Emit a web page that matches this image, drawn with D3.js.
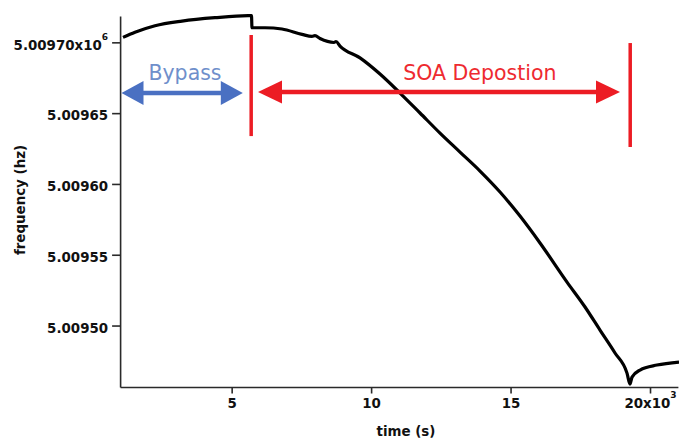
<!DOCTYPE html>
<html>
<head>
<meta charset="utf-8">
<script src="https://cdn.jsdelivr.net/npm/d3@7"></script>
<style>
    body { margin: 0; background: #fff; }
    svg { display: block; }
    .axis text { font-family: "DejaVu Sans", sans-serif; font-weight: bold; font-size: 13.4px; fill: #111; }
    .axis path, .axis line { stroke: #2a2a2a; stroke-width: 1.6; }
    .axis-title { font-family: "DejaVu Sans", sans-serif; font-weight: bold; font-size: 13.4px; fill: #111; }
    .note { font-family: "DejaVu Sans", sans-serif; font-size: 20.5px; }
</style>
</head>
<body>
<svg id="chart" width="679" height="441"></svg>
<script>

// time (s) and resonant frequency (Hz)
var timeS = [1104, 1534, 2251, 3219, 4403, 5586, 5711, 5729, 6195, 6805, 7522, 7880, 7988, 8167,
    8669, 8741, 8884, 9602, 10319, 11036, 11753, 12470, 13187, 13905, 14622, 15339, 16056,
    17024, 17670, 18207, 18745, 19175, 19283, 19355, 19642, 20251, 21040];
var freqHz = [5009703.5, 5009707.1, 5009711.7, 5009715.0, 5009717.4, 5009718.8, 5009718.8, 5009710.3,
    5009710.3, 5009709.4, 5009705.6, 5009704.2, 5009704.7, 5009702.7, 5009699.9, 5009700.6, 5009697.4,
    5009689.0, 5009677.6, 5009664.2, 5009650.1, 5009635.9, 5009622.5, 5009609.1, 5009594.3, 5009577.3,
    5009558.3, 5009530.7, 5009513.1, 5009496.8, 5009480.6, 5009466.4, 5009458.7, 5009463.6,
    5009468.6, 5009472.1, 5009474.2];

var xTicks = [5000, 10000, 15000, 20000];
var xTickLabels = ['5', '10', '15', '20x10'];
var yTicks = [5009500, 5009550, 5009600, 5009650, 5009700];
var yTickLabels = ['5.00950', '5.00955', '5.00960', '5.00965', '5.00970x10'];

// annotation positions, in data units
var bypassSpan = [1050, 5400];
var depositionSpan = [5944, 18924];
var phaseMarkers = [5700, 19290];
var markerTop = [5009705.2, 5009699.5];
var markerBottom = [5009633.8, 5009626.1];
var arrowFreq = [5009664.2, 5009664.9];
var noteFreq = 5009673.4;
var noteTime = [3327, 13900];
var noteText = ['Bypass', 'SOA Depostion'];

var svg = d3.select('#chart');

var x = d3.scaleLinear().domain([1000, 21000]).range([120.1, 677.9]);
var y = d3.scaleLinear().domain([5009456.6, 5009718.6]).range([387, 16]);

// axes
var xAxis = d3.axisBottom(x).tickValues(xTicks).tickSize(6.5).tickSizeOuter(0)
    .tickFormat(function(d, i) { return xTickLabels[i]; });
var gx = svg.append('g').attr('class', 'axis').attr('transform', 'translate(0,387)').call(xAxis);
gx.selectAll('text').attr('y', 20.5).attr('dy', 0);
gx.selectAll('.tick text').filter(function(d) { return d === 20000; })
    .append('tspan').attr('dy', -10).attr('font-size', '9px').text('3');

var yAxis = d3.axisLeft(y).tickValues(yTicks).tickSize(8).tickSizeOuter(0)
    .tickFormat(function(d, i) { return yTickLabels[i]; });
var gy = svg.append('g').attr('class', 'axis').attr('transform', 'translate(120.1,0)').call(yAxis);
gy.selectAll('text').attr('x', -12).attr('dy', '0.5em');
gy.selectAll('.tick text').filter(function(d) { return d === 5009700; })
    .append('tspan').attr('dy', -10).attr('font-size', '9px').text('6');

svg.append('text').attr('class', 'axis-title')
    .attr('transform', 'translate(25,200) rotate(-90)')
    .attr('text-anchor', 'middle')
    .text('frequency (hz)');

svg.append('text').attr('class', 'axis-title')
    .attr('x', 406).attr('y', 436)
    .attr('text-anchor', 'middle')
    .text('time (s)');

// frequency trace
var points = timeS.map(function(t, i) { return [t, freqHz[i]]; });
var line = d3.line()
    .curve(d3.curveMonotoneX)
    .x(function(d) { return x(d[0]); })
    .y(function(d) { return y(d[1]); });

svg.append('path')
    .datum(points)
    .attr('d', line)
    .attr('fill', 'none')
    .attr('stroke', '#000')
    .attr('stroke-width', 3.2)
    .attr('stroke-linejoin', 'round');

// double headed arrow between two times
function doubleArrow(t1, t2, f, color, len, half, width) {
    var x1 = x(t1), x2 = x(t2), yy = y(f);
    var g = svg.append('g');
    g.append('line')
        .attr('x1', x1 + len - 2).attr('x2', x2 - len + 2)
        .attr('y1', yy).attr('y2', yy)
        .attr('stroke', color).attr('stroke-width', width);
    g.append('path')
        .attr('d', 'M' + x1 + ',' + yy + 'L' + (x1 + len) + ',' + (yy - half) + 'L' + (x1 + len) + ',' + (yy + half) + 'Z')
        .attr('fill', color);
    g.append('path')
        .attr('d', 'M' + x2 + ',' + yy + 'L' + (x2 - len) + ',' + (yy - half) + 'L' + (x2 - len) + ',' + (yy + half) + 'Z')
        .attr('fill', color);
}

doubleArrow(bypassSpan[0], bypassSpan[1], arrowFreq[0], '#4a70c2', 22, 12, 4.5);
doubleArrow(depositionSpan[0], depositionSpan[1], arrowFreq[1], '#ec1c24', 24, 11.5, 4.5);

svg.selectAll('.marker')
    .data(phaseMarkers)
    .enter().append('line')
    .attr('class', 'marker')
    .attr('x1', function(d) { return x(d); })
    .attr('x2', function(d) { return x(d); })
    .attr('y1', function(d, i) { return y(markerTop[i]); })
    .attr('y2', function(d, i) { return y(markerBottom[i]); })
    .attr('stroke', '#ec1c24')
    .attr('stroke-width', 3.5);

svg.selectAll('.note')
    .data(noteText)
    .enter().append('text')
    .attr('class', 'note')
    .attr('x', function(d, i) { return x(noteTime[i]); })
    .attr('y', y(noteFreq))
    .attr('text-anchor', 'middle')
    .attr('fill', function(d, i) { return i == 0 ? '#6f8fcb' : '#ee2a30'; })
    .text(function(d) { return d; });

</script>
</body>
</html>
